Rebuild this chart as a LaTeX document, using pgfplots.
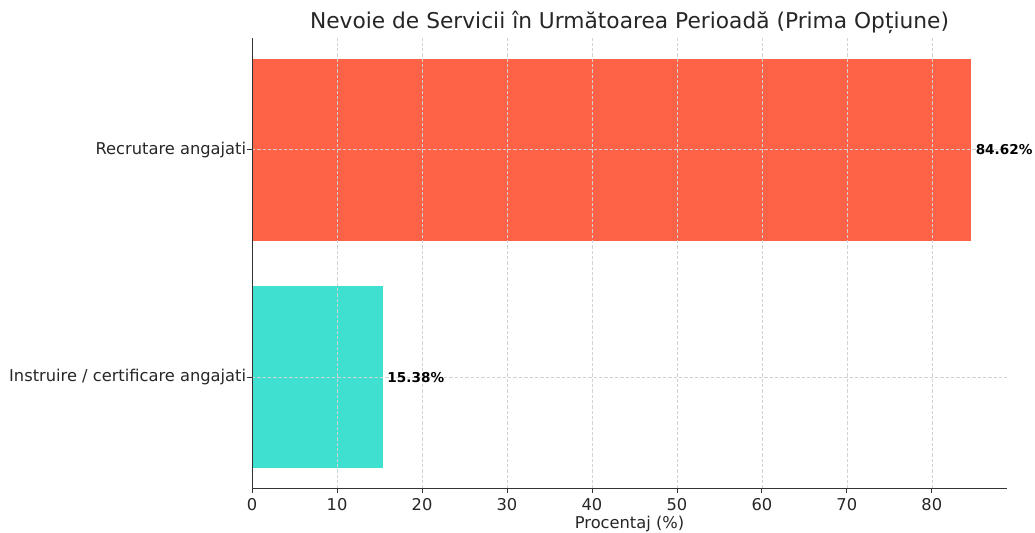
\documentclass[border=0pt]{standalone}
\usepackage{pgfplots}
\pgfplotsset{compat=1.18}
\usepackage{fontspec}
\setmainfont{DejaVu Sans}
\usetikzlibrary{calc}
\definecolor{tomato}{HTML}{FF6347}
\definecolor{turq}{HTML}{40E0D0}
\definecolor{txt}{HTML}{262626}
\begin{document}
\begin{tikzpicture}
\begin{axis}[
  scale only axis,
  width=566pt, height=338pt,
  xbar, bar width=0.8, bar shift=0pt,
  xmin=0, xmax=88.85,
  ymin=-0.49, ymax=1.49,
  ytick={0,1},
  yticklabels={Instruire / certificare angajati, Recrutare angajati},
  xtick={0,10,...,80},
  axis x line*=bottom, axis y line*=left,
  axis line style={black!80, line width=0.8pt},
  tick align=outside,
  major tick length=3.5pt,
  tick style={black!80, line width=0.6pt},
  xmajorgrids, ymajorgrids,
  major grid style={dash pattern=on 2.5pt off 1.5pt, gray!35, line width=0.4pt},
  axis on top,
  /pgf/number format/assume math mode=true,
  ticklabel style={font=\fontsize{12.2}{14}\selectfont, text=txt},
  yticklabel style={xshift=2.5pt},
  xlabel={Procentaj (\%)},
  xlabel style={font=\fontsize{12.2}{14}\selectfont, text=txt, yshift=3pt},
  title={Nevoie de Servicii în Următoarea Perioadă (Prima Opțiune)},
  title style={font=\fontsize{16.3}{19}\selectfont, text=txt, yshift=-6.5pt},
  nodes near coords={\pgfmathprintnumber[fixed,precision=2,fixed zerofill]{\pgfplotspointmeta}\%},
  nodes near coords style={font=\bfseries\fontsize{10.2}{12}\selectfont, anchor=west, xshift=0pt, text=black},
  point meta=explicit,
]
\addplot[fill=turq, draw=none] coordinates {(15.38,0) [15.38]};
\addplot[fill=tomato, draw=none] coordinates {(84.62,1) [84.62]};
\end{axis}
\pgfresetboundingbox
\path ($(current axis.south west)+(-189pt,-33pt)$) rectangle ($(current axis.north east)+(21pt,28.5pt)$);
\end{tikzpicture}
\end{document}
